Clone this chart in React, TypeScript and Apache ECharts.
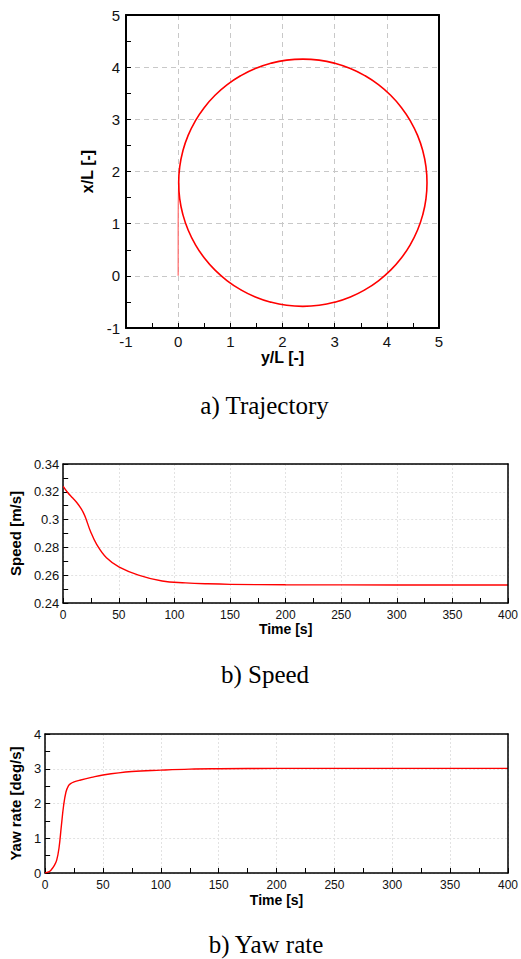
import React, { useEffect, useRef } from "react";
import * as echarts from "echarts";

// Trajectory: [y/L, x/L] pairs
const approachPath: number[][] = [
  [0, 0], [0, 0.5], [0, 1.0], [0.002, 1.4], [0.01, 1.785],
];
const circlePath: number[][] = [
  [0.01, 1.785], [0.03, 2.094], [0.091, 2.398], [0.191, 2.692], [0.329, 2.97], [0.502, 3.228],
  [0.707, 3.461], [0.941, 3.665], [1.2, 3.837], [1.479, 3.975], [1.774, 4.074], [2.079, 4.135],
  [2.39, 4.155], [2.701, 4.135], [3.006, 4.074], [3.301, 3.975], [3.58, 3.837], [3.839, 3.665],
  [4.073, 3.461], [4.278, 3.228], [4.451, 2.97], [4.589, 2.692], [4.689, 2.398], [4.75, 2.094],
  [4.77, 1.785], [4.75, 1.476], [4.689, 1.172], [4.589, 0.878], [4.451, 0.6], [4.278, 0.342],
  [4.073, 0.109], [3.839, -0.095], [3.58, -0.267], [3.301, -0.405], [3.006, -0.504], [2.701, -0.565],
  [2.39, -0.585], [2.079, -0.565], [1.774, -0.504], [1.479, -0.405], [1.2, -0.267], [0.941, -0.095],
  [0.707, 0.109], [0.502, 0.342], [0.329, 0.6], [0.191, 0.878], [0.091, 1.172], [0.03, 1.476],
  [0.01, 1.785],
];

// Speed [m/s] vs time [s]
const speedTime = [0, 4, 8.6, 12, 15.8, 18, 20.2, 24.5, 30.2, 38.9, 50.4, 67.7, 89, 110, 130, 150, 200, 300, 400];
const speedVals = [0.3239, 0.3195, 0.3155, 0.3125, 0.3083, 0.3052, 0.3012, 0.2916, 0.282, 0.2725, 0.2658, 0.2601, 0.2558, 0.2545, 0.2538, 0.2534, 0.2531, 0.253, 0.253];

// Yaw rate [deg/s] vs time [s]
const yawTime = [0, 3, 5, 8, 10, 12, 14, 16, 18, 20, 22, 25, 30, 40, 50, 75, 100, 125, 150, 200, 300, 400];
const yawVals = [0, 0.03, 0.08, 0.22, 0.37, 0.72, 1.35, 1.95, 2.33, 2.5, 2.57, 2.62, 2.67, 2.75, 2.82, 2.92, 2.96, 2.99, 3.0, 3.01, 3.01, 3.01];

const captions = ["a) Trajectory", "b) Speed", "b) Yaw rate"];

const SANS = "Liberation Sans";
const SERIF = "'Liberation Serif'";

function axisCommon(fontSize: number, dashed: boolean, lw: number) {
  return {
    axisLine: { show: true, onZero: false, lineStyle: { color: "#000", width: lw } },
    axisTick: { show: true, inside: true, length: 5, lineStyle: { color: "#000" } },
    minorTick: { show: true, splitNumber: 2, length: 5, lineStyle: { color: "#000" } },
    axisLabel: { color: "#111", fontFamily: SANS, fontSize, margin: 6 },
    splitLine: {
      show: true,
      lineStyle: { color: dashed ? "#c8c8c8" : "#e2e2e2", type: dashed ? [5, 4] : [2, 2], width: 1 },
    },
    nameTextStyle: { color: "#000", fontFamily: SANS, fontWeight: "bold" },
  };
}

function borderAxis(gridIndex: number, min: number, max: number, position: string, lw: number) {
  return {
    gridIndex, type: "value", min, max, position, z: 5,
    axisLine: { show: true, onZero: false, lineStyle: { color: "#000", width: lw } },
    axisTick: { show: false }, axisLabel: { show: false }, splitLine: { show: false },
  };
}

export default function App() {
  const ref = useRef<HTMLDivElement>(null);
  useEffect(() => {
    if (!ref.current) return;
    const chart = echarts.init(ref.current, undefined, { renderer: "svg" });
    const speedData = speedTime.map((t, i) => [t, speedVals[i]]);
    const yawData = yawTime.map((t, i) => [t, yawVals[i]]);
    const c1 = axisCommon(15, true, 2);
    const c2 = axisCommon(12, false, 1.5);
    chart.setOption({
      animation: false,
      backgroundColor: "#fff",
      grid: [
        { left: 126, top: 15, width: 313, height: 313 },
        { left: 50, top: 464, width: 463, height: 139 },
        { left: 44, top: 734, width: 464, height: 139 },
      ],
      xAxis: [
        {
          ...c1, gridIndex: 0, type: "value", min: -1, max: 5, interval: 1,
          name: "y/L [-]", nameLocation: "middle", nameGap: 21,
          nameTextStyle: { ...c1.nameTextStyle, fontSize: 16 },
        },
        {
          ...c2, gridIndex: 1, type: "value", min: 0, max: 400, interval: 50,
          name: "Time [s]", nameLocation: "middle", nameGap: 17,
          nameTextStyle: { ...c2.nameTextStyle, fontSize: 14 },
        },
        {
          ...c2, gridIndex: 2, type: "value", min: 0, max: 400, interval: 50,
          name: "Time [s]", nameLocation: "middle", nameGap: 20,
          nameTextStyle: { ...c2.nameTextStyle, fontSize: 14 },
        },
        borderAxis(0, -1, 5, "top", 2),
        borderAxis(1, 0, 400, "top", 1.5),
        borderAxis(2, 0, 400, "top", 1.5),
      ],
      yAxis: [
        {
          ...c1, gridIndex: 0, type: "value", min: -1, max: 5, interval: 1,
          name: "x/L [-]", nameLocation: "middle", nameGap: 19,
          nameTextStyle: { ...c1.nameTextStyle, fontSize: 16 },
        },
        {
          ...c2, gridIndex: 1, type: "value", min: 0.24, max: 0.34, interval: 0.02,
          name: "Speed [m/s]", nameLocation: "middle", nameGap: 25,
          nameTextStyle: { ...c2.nameTextStyle, fontSize: 15 },
          axisLabel: { ...c2.axisLabel, fontSize: 13, margin: 4 },
        },
        {
          ...c2, gridIndex: 2, type: "value", min: 0, max: 4, interval: 1,
          name: "Yaw rate [deg/s]", nameLocation: "middle", nameGap: 14,
          nameTextStyle: { ...c2.nameTextStyle, fontSize: 15 },
          axisLabel: { ...c2.axisLabel, fontSize: 13, margin: 4 },
        },
        borderAxis(0, -1, 5, "right", 2),
        borderAxis(1, 0.24, 0.34, "right", 1.5),
        borderAxis(2, 0, 4, "right", 1.5),
      ],
      series: [
        {
          type: "line", xAxisIndex: 0, yAxisIndex: 0, data: approachPath, showSymbol: false,
          lineStyle: { color: "#ff6a6a", width: 1.2 },
        },
        {
          type: "line", xAxisIndex: 0, yAxisIndex: 0, data: circlePath, showSymbol: false,
          smooth: 0.5, lineStyle: { color: "#ff0000", width: 1.6 },
        },
        {
          type: "line", xAxisIndex: 1, yAxisIndex: 1, data: speedData, showSymbol: false,
          smooth: 0.4, lineStyle: { color: "#ff0000", width: 1.4 },
        },
        {
          type: "line", xAxisIndex: 2, yAxisIndex: 2, data: yawData, showSymbol: false,
          smooth: 0.4, lineStyle: { color: "#ff0000", width: 1.4 },
        },
      ],
      graphic: [
        { type: "text", x: 264.5, y: 393, style: { text: captions[0], font: `25px ${SERIF}`, fill: "#000", textAlign: "center", textVerticalAlign: "top" } },
        { type: "text", x: 265, y: 662, style: { text: captions[1], font: `25px ${SERIF}`, fill: "#000", textAlign: "center", textVerticalAlign: "top" } },
        { type: "text", x: 266, y: 932, style: { text: captions[2], font: `25px ${SERIF}`, fill: "#000", textAlign: "center", textVerticalAlign: "top" } },
      ],
    });
    return () => chart.dispose();
  }, []);
  return (
    <div
      ref={ref}
      style={{ position: "fixed", left: 0, top: 0, width: 521, height: 959, background: "#fff" }}
    />
  );
}
